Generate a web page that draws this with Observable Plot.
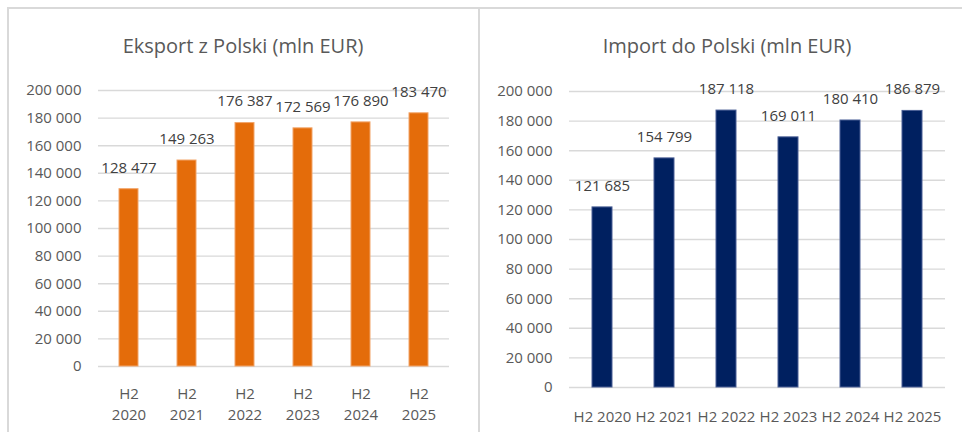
<!DOCTYPE html>
<html>
<head>
<meta charset="utf-8">
<script src="https://cdn.jsdelivr.net/npm/d3@7"></script>
<script src="https://cdn.jsdelivr.net/npm/@observablehq/plot@0.6"></script>
<style>
  html, body { margin: 0; padding: 0; background: #fff; }
  #wrap { position: relative; width: 962px; height: 432px; overflow: hidden; background: #fff; font-family: "Open Sans", sans-serif; }
  .line { position: absolute; background: #D9D9D9; }
  .title { position: absolute; transform: translate(-50%, -50%); font-size: 20px; color: #595959; white-space: nowrap; }
  .panel { position: absolute; top: 0; }
</style>
</head>
<body>
<div id="wrap">
  <div class="panel" id="left" style="left:0px"></div>
  <div class="panel" id="right" style="left:481px"></div>
  <div class="line" style="left:8px; top:7px; width:954px; height:2px"></div>
  <div class="line" style="left:7px; top:7px; width:2px; height:425px"></div>
  <div class="line" style="left:478px; top:7px; width:2px; height:425px"></div>
  <div class="title" style="left:243px; top:45px">Eksport z Polski (mln EUR)</div>
  <div class="title" style="left:727px; top:45px">Import do Polski (mln EUR)</div>
</div>
<script>
const periods = ["H2 2020", "H2 2021", "H2 2022", "H2 2023", "H2 2024", "H2 2025"];
const exportValues = [128477, 149263, 176387, 172569, 176890, 183470];
const importValues = [121685, 154799, 187118, 169011, 180410, 186879];
const yTicks = [0, 20000, 40000, 60000, 80000, 100000, 120000, 140000, 160000, 180000, 200000];

const fmt = v => d3.format(",")(v).replace(/,/g, " ");

function makeChart({values, color, stroke, width, marginLeft, marginRight, marginTop, marginBottom, twoLine, tickPaddingX}) {
  const data = periods.map((p, i) => ({period: p, value: values[i]}));
  return Plot.plot({
    width, height: 432,
    marginLeft, marginRight, marginTop, marginBottom,
    style: {fontFamily: "'Open Sans', sans-serif", fontSize: "15px", color: "#595959", background: "transparent"},
    x: {domain: periods, paddingInner: 0.675, paddingOuter: 0.3375, label: null},
    y: {domain: [0, 200000], label: null},
    marks: [
      Plot.gridY({ticks: yTicks, stroke: "#D9D9D9", strokeOpacity: 1, strokeWidth: 1.4}),
      Plot.axisY({ticks: yTicks, tickFormat: fmt, tickSize: 0, tickPadding: 17, label: null}),
      Plot.axisX({tickSize: 0, tickPadding: tickPaddingX, label: null,
        tickFormat: d => twoLine ? d.replace(" ", "\n") : d, lineHeight: 1.42}),
      Plot.barY(data, {x: "period", y: "value", fill: color, stroke: stroke, strokeWidth: 1}),
      Plot.text(data, {x: "period", y: "value", text: d => fmt(d.value), dy: -21.5,
        lineAnchor: "middle", fill: "#404040", fontSize: 15})
    ]
  });
}

document.getElementById("left").appendChild(makeChart({
  values: exportValues, color: "#E46C0A", stroke: "#F2A468",
  width: 480, marginLeft: 98, marginRight: 31, marginTop: 90, marginBottom: 66,
  twoLine: true, tickPaddingX: 17
}));
document.getElementById("right").appendChild(makeChart({
  values: importValues, color: "#002060", stroke: "#4A5F95",
  width: 481, marginLeft: 88, marginRight: 17, marginTop: 91, marginBottom: 45,
  twoLine: false, tickPaddingX: 19
}));
</script>
</body>
</html>
